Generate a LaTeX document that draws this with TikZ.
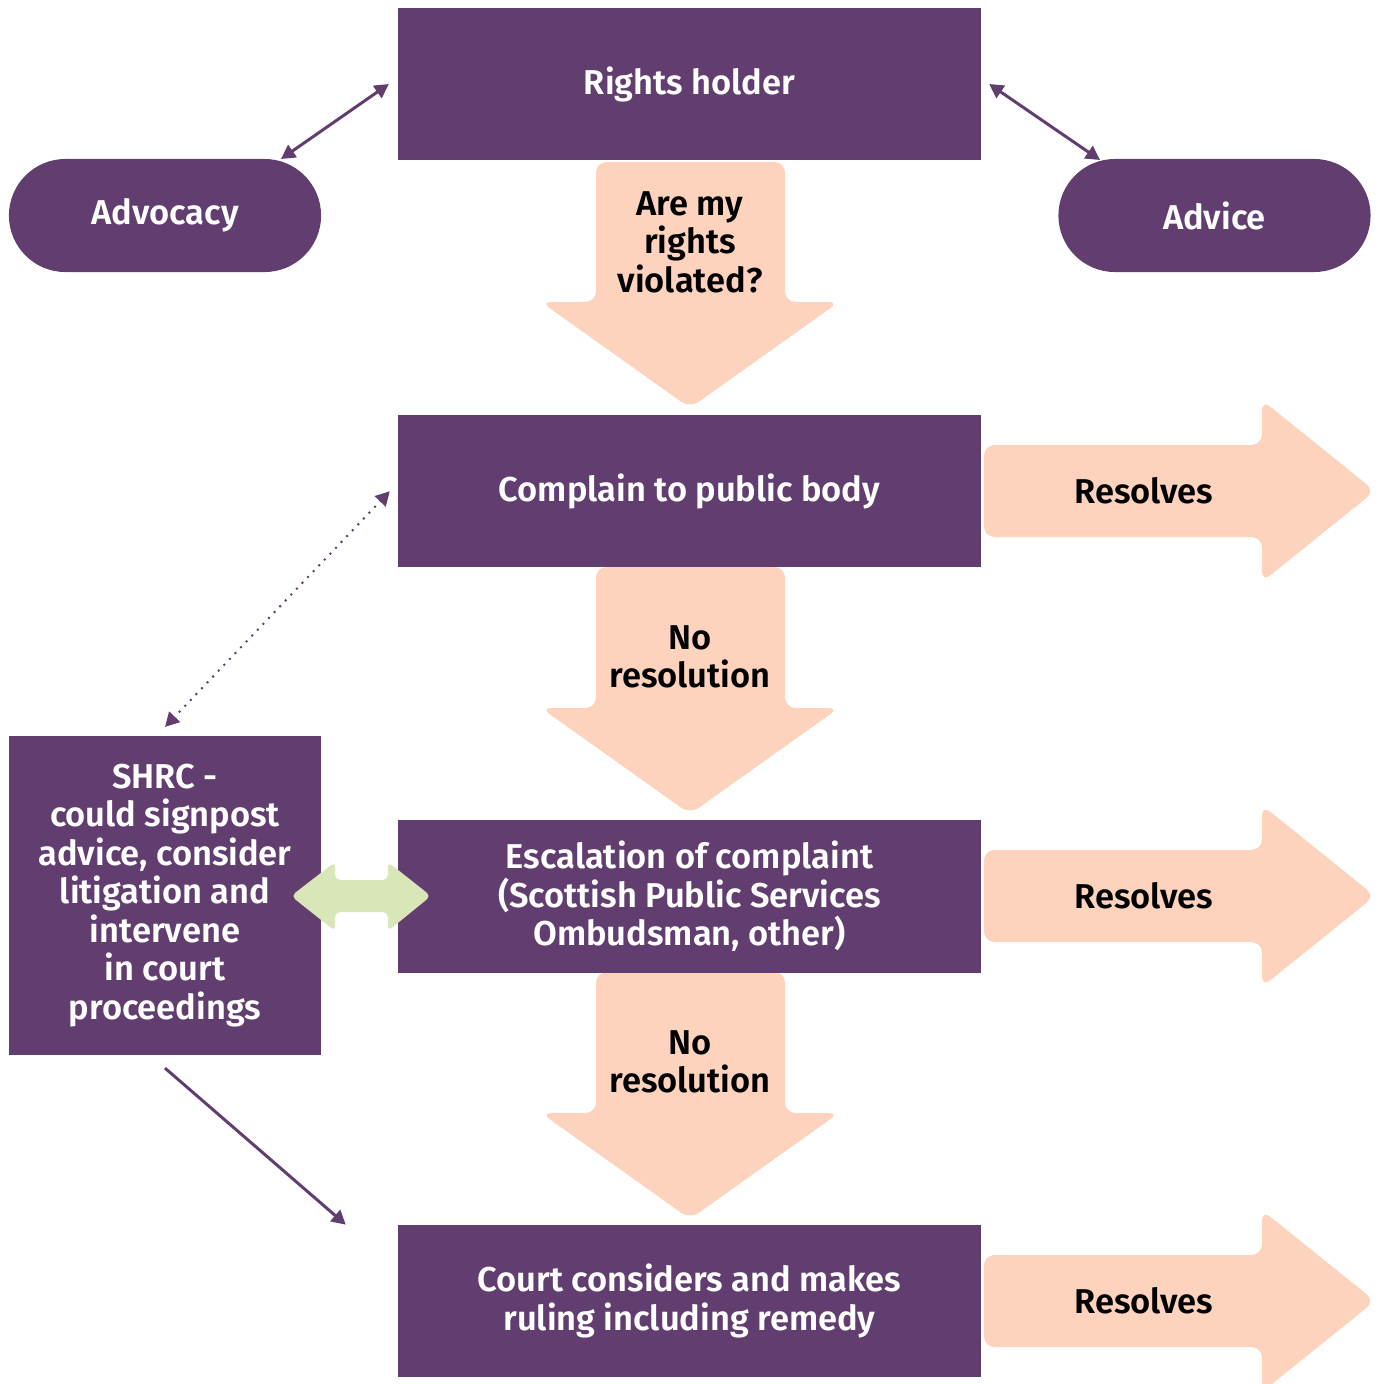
\documentclass[tikz,border=0pt]{standalone}
\usepackage{fontspec}
\setmainfont{Fira Sans}[BoldFont={Fira Sans SemiBold}]
\usetikzlibrary{arrows.meta,shapes.misc,positioning}

\definecolor{shrcpurple}{RGB}{98,62,112}
\definecolor{shrcpeach}{RGB}{253,211,190}
\definecolor{shrcgreen}{RGB}{216,230,184}

\newcommand{\labelfont}{\fontsize{9.8}{10.95}\selectfont\bfseries}

\tikzset{
  stagebox/.style={fill=shrcpurple, text=white, align=center, font=\labelfont,
    minimum width=5.83cm, minimum height=1.52cm, inner sep=0pt, outer sep=0pt},
  pill/.style={rounded rectangle, fill=shrcpurple, text=white, font=\labelfont,
    minimum width=3.12cm, minimum height=1.13cm, inner sep=0pt, outer sep=0pt},
  peachlabel/.style={text=black, align=center, font=\labelfont, inner sep=0pt},
  link/.style={shrcpurple, line width=0.85pt,
    {Triangle[length=4pt,width=4.2pt]}-{Triangle[length=4pt,width=4.2pt]}},
}

\begin{document}
\begin{tikzpicture}[x=0.01cm, y=-0.01cm]
  \useasboundingbox (0,0) rectangle (1379,1384);

  % Downward peach arrows
  \fill[shrcpeach, rounded corners=3pt] (596,162) -- (785,162) -- (785,302)
    -- (839,302) -- (690,408) -- (541,302) -- (596,302) -- cycle;
  \fill[shrcpeach, rounded corners=3pt] (596,567) -- (785,567) -- (785,708)
    -- (839,708) -- (690,814) -- (541,708) -- (596,708) -- cycle;
  \fill[shrcpeach, rounded corners=3pt] (596,972) -- (785,972) -- (785,1113)
    -- (839,1113) -- (690,1219) -- (541,1113) -- (596,1113) -- cycle;

  % Rightward peach arrows
  \fill[shrcpeach, rounded corners=3pt] (984,445) -- (1262,445) -- (1262,400)
    -- (1375,491) -- (1262,582) -- (1262,537) -- (984,537) -- cycle;
  \fill[shrcpeach, rounded corners=3pt] (984,850) -- (1262,850) -- (1262,805)
    -- (1375,896) -- (1262,987) -- (1262,942) -- (984,942) -- cycle;
  \fill[shrcpeach, rounded corners=3pt] (984,1255) -- (1262,1255) -- (1262,1210)
    -- (1375,1301) -- (1262,1392) -- (1262,1347) -- (984,1347) -- cycle;

  % Stages
  \node[stagebox] (holder) at (689.5,84) {Rights holder};
  \node[stagebox, below=2.55cm of holder] (complain) {Complain to public body};
  \node[stagebox, below=2.53cm of complain] (escalate)
    {Escalation of complaint\\(Scottish Public Services\\Ombudsman, other)};
  \node[stagebox, below=2.52cm of escalate] (court)
    {Court considers and makes\\ruling including remedy};

  \node[pill] (advocacy) at (165,215.5) {Advocacy};
  \node[pill] (advice) at (1214.5,215.5) {Advice};
  \node[stagebox, minimum width=3.12cm, minimum height=3.19cm] (shrc) at (165,895.5)
    {SHRC -\\could signpost\\advice, consider\\litigation and\\intervene\\in court\\proceedings};

  % Labels on the peach arrows
  \node[peachlabel] (violated) at (690,242) {Are my\\rights\\violated?};
  \node[peachlabel] (nores1) at (690,657) {No\\resolution};
  \node[peachlabel] (nores2) at (690,1062) {No\\resolution};
  \node[peachlabel] (res1) at (1144,491) {Resolves};
  \node[peachlabel] (res2) at (1144,896) {Resolves};
  \node[peachlabel] (res3) at (1144,1301) {Resolves};

  % Green two-way arrow between SHRC and escalation
  \fill[shrcgreen, rounded corners=1.5pt] (291,896) -- (335,862) -- (335,880)
    -- (388,880) -- (388,862) -- (431,896) -- (388,931) -- (388,912)
    -- (335,912) -- (335,931) -- cycle;

  % Thin connectors
  \coordinate (advocacytop) at (281,159);
  \coordinate (advicetop) at (1100,160);
  \draw[link] (advocacytop) -- ([xshift=-0.09cm]holder.west);
  \draw[link] ([xshift=0.08cm]holder.east) -- (advicetop);
  \draw[link, line width=0.8pt, line cap=round, dash pattern=on 0pt off 2.3pt]
    ([xshift=-0.08cm]complain.west) -- ([yshift=0.09cm]shrc.north);
  \draw[shrcpurple, line width=0.85pt, -{Triangle[length=4pt,width=4.2pt]}]
    ([yshift=-0.13cm]shrc.south) -- ([xshift=-0.52cm]court.north west);
\end{tikzpicture}
\end{document}
